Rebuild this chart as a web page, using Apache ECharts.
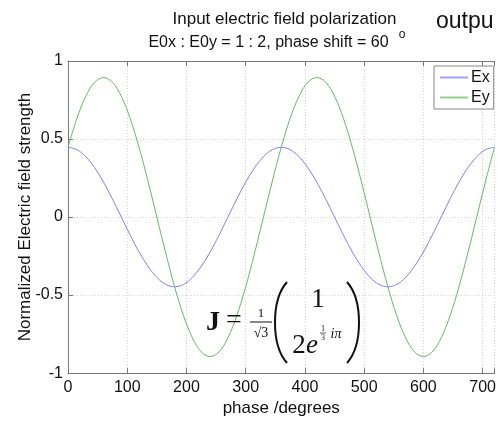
<!DOCTYPE html>
<html><head><meta charset="utf-8">
<script src="https://cdn.jsdelivr.net/npm/echarts@6/dist/echarts.min.js"></script>
<style>html,body{margin:0;padding:0;background:#fff;}#c{width:499px;height:422px;}</style>
</head><body><div id="c"></div>
<script>
// phase in degrees, sampled every 15 degrees
var phase = [0,15,30,45,60,75,90,105,120,135,150,165,180,195,210,225,240,255,270,285,300,315,330,345,
             360,375,390,405,420,435,450,465,480,495,510,525,540,555,570,585,600,615,630,645,660,675,690,705,720];
var exVals = [0.447,0.432,0.387,0.316,0.224,0.116,0,-0.116,-0.224,-0.316,-0.387,-0.432,-0.447,-0.432,-0.387,-0.316,-0.224,-0.116,0,0.116,0.224,0.316,0.387,0.432,
              0.447,0.432,0.387,0.316,0.224,0.116,0,-0.116,-0.224,-0.316,-0.387,-0.432,-0.447,-0.432,-0.387,-0.316,-0.224,-0.116,0,0.116,0.224,0.316,0.387,0.432,0.447];
var eyVals = [0.447,0.632,0.774,0.864,0.894,0.864,0.774,0.632,0.447,0.231,0,-0.231,-0.447,-0.632,-0.774,-0.864,-0.894,-0.864,-0.774,-0.632,-0.447,-0.231,0,0.231,
              0.447,0.632,0.774,0.864,0.894,0.864,0.774,0.632,0.447,0.231,0,-0.231,-0.447,-0.632,-0.774,-0.864,-0.894,-0.864,-0.774,-0.632,-0.447,-0.231,0,0.231,0.447];
var seriesNames = ['Ex','Ey'];
var xTicks = [0,100,200,300,400,500,600,700];
var yTicks = [-1,-0.5,0,0.5,1];

function pairs(xs, ys){ return xs.map(function(x,i){return [x, ys[i]];}); }

var chart = echarts.init(document.getElementById('c'), null, {renderer:'canvas'});
var axisCol = '#777';
var FF = '"Liberation Sans", Arial, sans-serif';
var lab = {color:'#111', fontSize:16, fontFamily:FF};
var option = {
  animation:false,
  backgroundColor:'#fff',
  grid:{left:68, top:61, width:432, height:321, containLabel:false},
  xAxis:[{
    type:'value', min:0, max:720, interval:100,
    axisLine:{show:true, onZero:false, lineStyle:{color:axisCol, width:1}},
    axisTick:{show:true, inside:true, length:5, lineStyle:{color:axisCol}},
    axisLabel:Object.assign({margin:6, formatter:function(v){return xTicks.indexOf(v)>=0? String(v):'';}}, lab),
    splitLine:{show:true, lineStyle:{color:'#d4d4d4', type:[1,2], width:1}},
    name:'phase /degrees', nameLocation:'middle', nameGap:24,
    nameTextStyle:{color:'#111', fontSize:17, fontFamily:FF}
  },{
    type:'value', position:'top', min:0, max:720, interval:100,
    axisLine:{show:true, onZero:false, lineStyle:{color:axisCol, width:1}},
    axisTick:{show:true, inside:true, length:5, lineStyle:{color:axisCol}},
    axisLabel:{show:false}, splitLine:{show:false}
  }],
  yAxis:[{
    type:'value', min:-1, max:1, interval:0.5,
    axisLine:{show:true, onZero:false, lineStyle:{color:axisCol, width:1}},
    axisTick:{show:true, inside:true, length:5, lineStyle:{color:axisCol}},
    axisLabel:Object.assign({margin:5, formatter:function(v){return yTicks.indexOf(v)>=0? String(v):'';}}, lab),
    splitLine:{show:true, lineStyle:{color:'#d4d4d4', type:[1,2], width:1}},
    name:'Normalized Electric field strength', nameLocation:'middle', nameGap:34, nameRotate:90,
    nameMoveOverlap:false,
    nameTextStyle:{color:'#111', fontSize:17, fontFamily:FF}
  }],
  legend:{
    show:true, left:434, top:66, orient:'vertical', itemGap:3, itemWidth:28, itemHeight:2,
    padding:[3,4,3,6], borderColor:'#888', borderWidth:1, backgroundColor:'#fff', borderRadius:0,
    icon:'rect',
    textStyle:{color:'#111', fontSize:16, fontFamily:FF, padding:[0,0,0,-2], lineHeight:17},
    data:seriesNames
  },
  series:[
    {name:seriesNames[0], type:'line', data:pairs(phase, exVals), smooth:0.35, showSymbol:false,
     lineStyle:{color:'#7f7fff', width:1}, itemStyle:{color:'#a0a0ff'}},
    {name:seriesNames[1], type:'line', data:pairs(phase, eyVals), smooth:0.35, showSymbol:false,
     lineStyle:{color:'#66b866', width:1}, itemStyle:{color:'#94d094'}}
  ],
  graphic:[
    {type:'text', style:{text:'Input electric field polarization', x:284.5, y:19, align:'center', verticalAlign:'middle', fill:'#111', font:'17px ' + FF}},
    {type:'text', style:{text:'E0x : E0y = 1 : 2, phase shift = 60', x:268.5, y:43, align:'center', verticalAlign:'middle', fill:'#111', font:'16px ' + FF}},
    {type:'text', style:{text:'o', x:402, y:35, align:'center', verticalAlign:'middle', fill:'#111', font:'12px ' + FF}},
    {type:'text', style:{text:'outpu', x:436, y:22, align:'left', verticalAlign:'middle', fill:'#111', font:'23px ' + FF}},
    // formula
    {type:'text', z:10, style:{text:'J', x:213, y:323, align:'center', verticalAlign:'middle', fill:'#111', font:'bold 28px "Liberation Serif", serif'}},
    {type:'text', z:10, style:{text:'=', x:234, y:321, align:'center', verticalAlign:'middle', fill:'#111', font:'28px "Liberation Serif", serif'}},
    {type:'text', z:10, style:{text:'1', x:261, y:314, align:'center', verticalAlign:'middle', fill:'#111', font:'13px "Liberation Serif", serif'}},
    {type:'line', z:10, shape:{x1:250, y1:322, x2:272, y2:322}, style:{stroke:'#111', lineWidth:1}},
    {type:'text', z:10, style:{text:'\u221A3', x:261, y:333, align:'center', verticalAlign:'middle', fill:'#111', font:'14px "Liberation Serif", serif'}},
    {type:'bezierCurve', z:10, shape:{x1:287, y1:282, cpx1:271, cpy1:300, cpx2:271, cpy2:345, x2:287, y2:363}, style:{stroke:'#111', lineWidth:2, fill:null}},
    {type:'bezierCurve', z:10, shape:{x1:347, y1:282, cpx1:363, cpy1:300, cpx2:363, cpy2:345, x2:347, y2:363}, style:{stroke:'#111', lineWidth:2, fill:null}},
    {type:'text', z:10, style:{text:'1', x:318, y:300, align:'center', verticalAlign:'middle', fill:'#111', font:'27px "Liberation Serif", serif'}},
    {type:'text', z:10, style:{text:'2', x:299, y:346, align:'center', verticalAlign:'middle', fill:'#111', font:'27px "Liberation Serif", serif'}},
    {type:'text', z:10, style:{text:'e', x:312, y:346, align:'center', verticalAlign:'middle', fill:'#111', font:'italic 27px "Liberation Serif", serif'}},
    {type:'text', z:10, style:{text:'1', x:323, y:329, align:'center', verticalAlign:'middle', fill:'#111', font:'8px "Liberation Serif", serif'}},
    {type:'line', z:10, shape:{x1:320, y1:333, x2:326, y2:333}, style:{stroke:'#111', lineWidth:0.7}},
    {type:'text', z:10, style:{text:'3', x:323, y:338, align:'center', verticalAlign:'middle', fill:'#111', font:'8px "Liberation Serif", serif'}},
    {type:'text', z:10, style:{text:'i\u03C0', x:336, y:334, align:'center', verticalAlign:'middle', fill:'#111', font:'italic 14px "Liberation Serif", serif'}}
  ]
};
chart.setOption(option);
</script></body></html>
